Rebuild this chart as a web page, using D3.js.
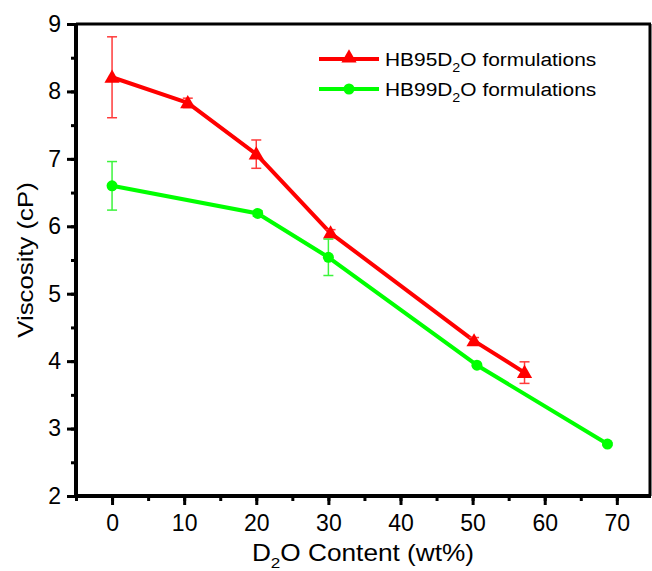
<!DOCTYPE html>
<html>
<head>
  <meta charset="utf-8">
  <title>Viscosity vs D2O content</title>
  <script src="https://cdn.jsdelivr.net/npm/d3@7"></script>
  <style>
    body { margin: 0; background: #fff; }
    text { font-family: "Liberation Sans", Arial, sans-serif; fill: #000; }
  </style>
</head>
<body>
  <svg width="652" height="571"></svg>
<script>

// D2O content (wt%) and viscosity (cP) with error half-widths
const hb95X   = [0, 10.5, 20, 30.3, 50.2, 57.2];
const hb95Y   = [8.21, 7.83, 7.07, 5.90, 4.30, 3.83];
const hb95Err = [0.60, 0.07, 0.21, 0.05, 0.05, 0.16];

const hb99X   = [0, 20.2, 30, 50.6, 68.7];
const hb99Y   = [6.60, 6.19, 5.54, 3.94, 2.77];
const hb99Err = [0.36, 0.04, 0.27, 0.02, 0.02];

const xTicks = [0, 10, 20, 30, 40, 50, 60, 70];
const yTicks = [2, 3, 4, 5, 6, 7, 8, 9];

const seriesNames = ['HB95', 'HB99'];

const pLeft = 76, pRight = 650, pTop = 24, pBottom = 496;

let svg = d3.select('svg');

let x = d3.scaleLinear().domain([-5, 74.6]).range([pLeft, pRight]);
let y = d3.scaleLinear().domain([2, 9]).range([pBottom, pTop]);

let toPoints = (xs, ys, es) => xs.map((v, i) => ({x: v, y: ys[i], e: es[i]}));

let series = [
  {name: seriesNames[0], pts: toPoints(hb95X, hb95Y, hb95Err), color: '#ff0000', errColor: '#ff3a3a', marker: 'tri'},
  {name: seriesNames[1], pts: toPoints(hb99X, hb99Y, hb99Err), color: '#00ff00', errColor: '#3cf43c', marker: 'dot'}
];

// frame (top / right)
svg.append('line').attr('x1', pLeft).attr('x2', pRight + 1).attr('y1', pTop).attr('y2', pTop)
  .style('stroke', '#000').style('stroke-width', 3);
svg.append('line').attr('x1', pRight).attr('x2', pRight).attr('y1', pTop).attr('y2', pBottom)
  .style('stroke', '#000').style('stroke-width', 3);

// minor ticks
let gx = svg.append('g').attr('transform', 'translate(0,' + pBottom + ')');
gx.call(d3.axisBottom(x).tickValues(d3.range(-5, 75, 5)).tickSize(5).tickFormat(''));
let gy = svg.append('g').attr('transform', 'translate(' + pLeft + ',0)');
gy.call(d3.axisLeft(y).tickValues(d3.range(2, 9.01, 0.5)).tickSize(5).tickFormat(''));

// major ticks with labels
let gx2 = svg.append('g').attr('transform', 'translate(0,' + pBottom + ')');
gx2.call(d3.axisBottom(x).tickValues(xTicks).tickSize(9).tickPadding(10).tickFormat(d3.format('d')));
let gy2 = svg.append('g').attr('transform', 'translate(' + pLeft + ',0)');
gy2.call(d3.axisLeft(y).tickValues(yTicks).tickSize(9).tickPadding(6).tickFormat(d3.format('d')));

svg.selectAll('.domain').remove();
svg.selectAll('.tick line').style('stroke', '#000').style('stroke-width', 3);
svg.selectAll('.tick text').style('font-size', '23px');

// axis lines
svg.append('line').attr('x1', pLeft - 2).attr('x2', pRight + 1).attr('y1', pBottom).attr('y2', pBottom)
  .style('stroke', '#000').style('stroke-width', 4);
svg.append('line').attr('x1', pLeft).attr('x2', pLeft).attr('y1', pTop - 1).attr('y2', pBottom + 2)
  .style('stroke', '#000').style('stroke-width', 4);

let line = d3.line().x(d => x(d.x)).y(d => y(d.y));
let triangle = d3.symbol().type(d3.symbolTriangle).size(100);

series.forEach(s => {
  let g = svg.append('g');

  g.append('path').attr('d', line(s.pts))
    .style('fill', 'none').style('stroke', s.color).style('stroke-width', 4)
    .style('stroke-linejoin', 'round');

  // error bars
  s.pts.forEach(p => {
    let cx = x(p.x), y0 = y(p.y - p.e), y1 = y(p.y + p.e);
    g.append('line').attr('x1', cx).attr('x2', cx).attr('y1', y0).attr('y2', y1)
      .style('stroke', s.errColor).style('stroke-width', 1.5);
    [y0, y1].forEach(yy => {
      g.append('line').attr('x1', cx - 5).attr('x2', cx + 5).attr('y1', yy).attr('y2', yy)
        .style('stroke', s.errColor).style('stroke-width', 1.5);
    });
  });

  s.pts.forEach(p => {
    if (s.marker === 'tri') {
      g.append('path').attr('d', triangle())
        .attr('transform', 'translate(' + x(p.x) + ',' + (y(p.y) + 1) + ')')
        .style('fill', s.color);
    } else {
      g.append('circle').attr('cx', x(p.x)).attr('cy', y(p.y)).attr('r', 5.5)
        .style('fill', s.color);
    }
  });
});

// legend
series.forEach((s, i) => {
  let ly = 59 + i * 30;
  let g = svg.append('g');
  g.append('line').attr('x1', 319).attr('x2', 379).attr('y1', ly).attr('y2', ly)
    .style('stroke', s.color).style('stroke-width', 4);
  if (s.marker === 'tri') {
    g.append('path').attr('d', triangle()).attr('transform', 'translate(349,' + (ly - 1) + ')')
      .style('fill', s.color);
  } else {
    g.append('circle').attr('cx', 349).attr('cy', ly).attr('r', 5.5).style('fill', s.color);
  }
  let t = g.append('text').attr('transform', 'translate(385,' + (ly + 7) + ') scale(1.1,1)')
    .style('font-size', '19px');
  t.append('tspan').text(s.name + 'D');
  t.append('tspan').attr('dy', 6).style('font-size', '13px').text('2');
  t.append('tspan').attr('dy', -6).text('O formulations');
});

// axis titles
let xt = svg.append('text')
  .attr('transform', 'translate(' + ((pLeft + pRight) / 2) + ',561) scale(1.14,1)')
  .attr('text-anchor', 'middle').style('font-size', '23px');
xt.append('tspan').text('D');
xt.append('tspan').attr('dy', 7).style('font-size', '15px').text('2');
xt.append('tspan').attr('dy', -7).text('O Content (wt%)');

svg.append('text')
  .attr('transform', 'translate(33,' + ((pTop + pBottom) / 2) + ') rotate(-90) scale(1.12,1)')
  .attr('text-anchor', 'middle').style('font-size', '23px').text('Viscosity (cP)');

</script>
</body>
</html>
